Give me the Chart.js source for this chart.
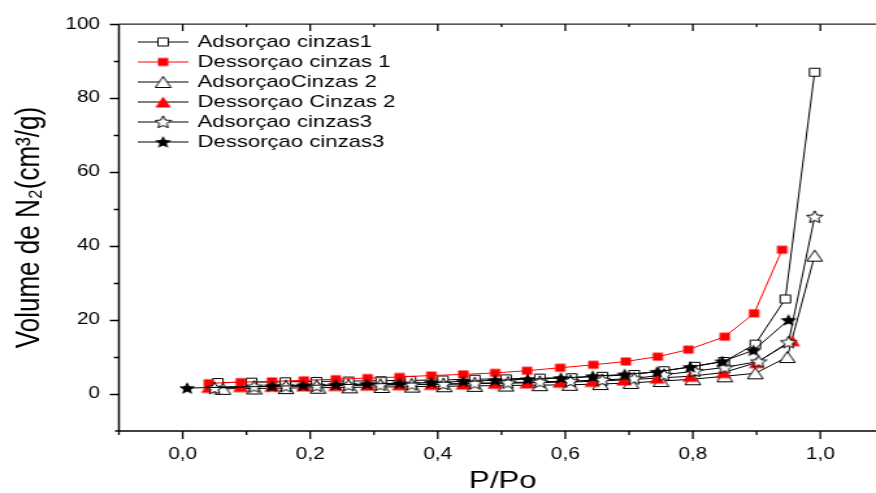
<!DOCTYPE html>
<html>
<head>
<meta charset="utf-8">
<script src="https://cdn.jsdelivr.net/npm/chart.js@4"></script>
<style>
  html, body { margin: 0; padding: 0; background: #fff; overflow: hidden; }
  #chart { display: block; }
</style>
</head>
<body>
<!-- the reference is stretched sideways, so the canvas is drawn narrow and shown wide -->
<canvas id="chart" width="674" height="493" style="width:876px;height:493px"></canvas>
<script>
const FONT = '"Liberation Sans", Arial, sans-serif';

const seriesNames = [
    'Adsorçao cinzas1',
    'Dessorçao cinzas 1',
    'AdsorçaoCinzas 2',
    'Dessorçao Cinzas 2',
    'Adsorçao cinzas3',
    'Dessorçao cinzas3'
];

const ads1X = [0.055, 0.108, 0.161, 0.21, 0.26, 0.311, 0.357, 0.408, 0.458, 0.507, 0.56, 0.61, 0.658, 0.708, 0.755, 0.803, 0.849, 0.898, 0.945, 0.991];
const ads1Y = [3.1, 3.2, 3.3, 3.4, 3.5, 3.6, 3.7, 3.8, 4.0, 4.1, 4.3, 4.4, 4.8, 5.3, 6.3, 7.5, 8.8, 13.5, 25.7, 87];

const des1X = [0.041, 0.091, 0.14, 0.19, 0.24, 0.29, 0.34, 0.39, 0.44, 0.49, 0.54, 0.592, 0.644, 0.695, 0.745, 0.793, 0.85, 0.896, 0.94];
const des1Y = [2.9, 3.2, 3.4, 3.7, 4.0, 4.3, 4.6, 5.0, 5.3, 5.7, 6.3, 7.1, 7.9, 8.8, 10.1, 12, 15.5, 21.8, 39];

const ads2X = [0.063, 0.112, 0.162, 0.212, 0.262, 0.312, 0.36, 0.41, 0.458, 0.507, 0.56, 0.607, 0.655, 0.703, 0.75, 0.8, 0.85, 0.898, 0.948, 0.991];
const ads2Y = [1.4, 1.5, 1.6, 1.7, 1.8, 1.9, 2.0, 2.1, 2.2, 2.3, 2.4, 2.5, 2.7, 3.0, 3.5, 4.0, 4.8, 5.6, 10.0, 37.4];

const des2X = [0.041, 0.091, 0.14, 0.19, 0.24, 0.29, 0.34, 0.39, 0.44, 0.49, 0.54, 0.592, 0.642, 0.692, 0.744, 0.796, 0.848, 0.9, 0.956];
const des2Y = [1.8, 2.0, 2.1, 2.2, 2.3, 2.4, 2.5, 2.6, 2.7, 2.9, 3.0, 3.2, 3.4, 3.8, 4.3, 4.8, 5.8, 8.5, 14.4];

const ads3X = [0.05, 0.112, 0.162, 0.21, 0.26, 0.31, 0.359, 0.409, 0.458, 0.51, 0.56, 0.608, 0.658, 0.708, 0.755, 0.803, 0.85, 0.903, 0.95, 0.991];
const ads3Y = [1.6, 2.0, 2.1, 2.2, 2.4, 2.5, 2.6, 2.7, 2.9, 3.1, 3.3, 3.5, 3.8, 4.2, 5.2, 6.2, 7.2, 8.8, 14.0, 47.9];

const des3X = [0.007, 0.14, 0.189, 0.24, 0.289, 0.34, 0.39, 0.44, 0.49, 0.541, 0.593, 0.643, 0.693, 0.744, 0.796, 0.846, 0.895, 0.95];
const des3Y = [1.6, 2.1, 2.3, 2.5, 2.7, 2.9, 3.1, 3.4, 3.7, 4.0, 4.3, 4.8, 5.3, 6.0, 7.3, 8.8, 11.8, 20];

const xTickLabels = ['0,0', '0,2', '0,4', '0,6', '0,8', '1,0'];
const yTickLabels = ['0', '20', '40', '60', '80', '100'];
const xTitle = 'P/Po';
const yTitle = 'Volume de N₂(cm³/g)';

// marker images (drawn narrow, the canvas stretch widens them)
function makeMarker(kind, fill, stroke) {
    const c = document.createElement('canvas');
    const w = kind === 'square' ? 11 : 14;
    const h = kind === 'square' ? 11 : 14;
    c.width = w;
    c.height = h;
    const g = c.getContext('2d');
    g.beginPath();
    if (kind === 'square') {
        g.rect(1.5, 1.5, 8, 8);
    } else if (kind === 'triangle') {
        g.moveTo(7, 1.5);
        g.lineTo(13, 12.5);
        g.lineTo(1, 12.5);
        g.closePath();
    } else {
        const cx = 7, cy = 7.5, ro = 6.6, ri = 3;
        for (let i = 0; i < 10; i++) {
            const r = i % 2 === 0 ? ro : ri;
            const a = -Math.PI / 2 + i * Math.PI / 5;
            const px = cx + r * Math.cos(a);
            const py = cy + r * Math.sin(a);
            if (i === 0) g.moveTo(px, py); else g.lineTo(px, py);
        }
        g.closePath();
    }
    g.fillStyle = fill;
    g.fill();
    if (stroke) {
        g.strokeStyle = stroke;
        g.lineWidth = 1;
        g.stroke();
    }
    return c;
}

const markers = [
    makeMarker('square', '#fff', '#000'),
    makeMarker('square', '#ff0000', null),
    makeMarker('triangle', '#fff', '#000'),
    makeMarker('triangle', '#ff0000', null),
    makeMarker('star', '#fff', '#000'),
    makeMarker('star', '#000', null)
];
const lineColors = ['#000', '#ff0000', '#000', '#000', '#000', '#000'];

function toPoints(xs, ys) {
    return xs.map((x, i) => ({ x: x, y: ys[i] }));
}

const allX = [ads1X, des1X, ads2X, des2X, ads3X, des3X];
const allY = [ads1Y, des1Y, ads2Y, des2Y, ads3Y, des3Y];

const datasets = seriesNames.map((name, i) => ({
    label: name,
    data: toPoints(allX[i], allY[i]),
    borderColor: lineColors[i],
    backgroundColor: lineColors[i],
    borderWidth: 1,
    pointStyle: markers[i],
    pointRadius: 5,
    tension: 0,
    order: -i
}));

// axis frame and ticks, ticks point out on the left/bottom and in on top
const axesPlugin = {
    id: 'axesFrame',
    afterDraw(chart) {
        const { ctx, chartArea: a, scales: { x, y } } = chart;
        ctx.save();
        ctx.strokeStyle = '#000';
        ctx.lineWidth = 1.5;
        ctx.beginPath();
        ctx.moveTo(a.left, a.top);
        ctx.lineTo(a.left, a.bottom);
        ctx.moveTo(a.left - 3, a.bottom);
        ctx.lineTo(chart.width, a.bottom);
        ctx.stroke();

        ctx.lineWidth = 1.2;
        ctx.strokeStyle = '#222';
        ctx.beginPath();
        ctx.moveTo(a.left, a.top);
        ctx.lineTo(chart.width, a.top);
        ctx.stroke();

        ctx.strokeStyle = '#000';
        ctx.lineWidth = 1.3;
        ctx.beginPath();
        for (let v = 0; v <= 100; v += 10) {
            const py = Math.round(y.getPixelForValue(v)) + 0.5;
            const len = v % 20 === 0 ? 7 : 4;
            ctx.moveTo(a.left - len, py);
            ctx.lineTo(a.left, py);
        }
        for (let i = -1; i <= 10; i++) {
            const px = x.getPixelForValue(i / 10);
            const major = i >= 0 && i % 2 === 0;
            ctx.moveTo(px, a.bottom);
            ctx.lineTo(px, a.bottom + (major ? 8 : 4));
            if (i >= 0) {
                ctx.moveTo(px, a.top);
                ctx.lineTo(px, a.top + (major ? 7 : 3));
            }
        }
        ctx.stroke();

        // x title, a bit right of the plot centre like the original
        ctx.font = '24px ' + FONT;
        ctx.fillStyle = '#000';
        ctx.textAlign = 'center';
        ctx.textBaseline = 'middle';
        ctx.fillText(xTitle, x.getPixelForValue(0.5) + 1, 481);
        ctx.restore();
    }
};

// legend inside the plot, top left
const legendPlugin = {
    id: 'insideLegend',
    afterDraw(chart) {
        const ctx = chart.ctx;
        ctx.save();
        ctx.font = '17px ' + FONT;
        ctx.textBaseline = 'middle';
        ctx.fillStyle = '#000';
        chart.data.datasets.forEach((ds, i) => {
            const yy = 42 + i * 20;
            ctx.strokeStyle = ds.borderColor;
            ctx.lineWidth = 1;
            ctx.beginPath();
            ctx.moveTo(106, yy);
            ctx.lineTo(145, yy);
            ctx.stroke();
            const m = ds.pointStyle;
            ctx.drawImage(m, 125.5 - m.width / 2, yy - m.height / 2);
            ctx.fillText(ds.label, 152, yy);
        });
        ctx.restore();
    }
};

new Chart(document.getElementById('chart'), {
    type: 'line',
    data: { datasets: datasets },
    plugins: [axesPlugin, legendPlugin],
    options: {
        responsive: false,
        animation: false,
        devicePixelRatio: 1,
        layout: { padding: { top: 20, right: 0, bottom: 0, left: 0 } },
        plugins: {
            legend: { display: false },
            tooltip: { enabled: false }
        },
        scales: {
            x: {
                type: 'linear',
                position: 'bottom',
                min: -0.1,
                max: 1.075,
                grid: { display: false, drawTicks: false },
                border: { display: false },
                ticks: {
                    stepSize: 0.1,
                    includeBounds: false,
                    maxTicksLimit: 30,
                    autoSkip: false,
                    maxRotation: 0,
                    padding: 14,
                    color: '#000',
                    font: { family: FONT, size: 16 },
                    callback: v => {
                        const i = Math.round(v * 10);
                        if (Math.abs(v * 10 - i) > 1e-6) return '';
                        if (i >= 0 && i <= 10 && i % 2 === 0) return xTickLabels[i / 2];
                        return '';
                    }
                },
                title: { display: false },
                afterFit: s => {
                    s.height = 62;
                    s.paddingLeft = 0;
                    s.paddingRight = 0;
                }
            },
            y: {
                min: -10,
                max: 100,
                grid: { display: false, drawTicks: false },
                border: { display: false },
                ticks: {
                    stepSize: 10,
                    padding: 14.5,
                    color: '#000',
                    font: { family: FONT, size: 16 },
                    callback: v => (v >= 0 && v % 20 === 0) ? yTickLabels[v / 20] : ''
                },
                title: {
                    display: true,
                    text: yTitle,
                    color: '#000',
                    font: { family: FONT, size: 26 },
                    padding: { top: 7, bottom: 0 }
                },
                afterFit: s => { s.width = 91.5; }
            }
        }
    }
});
</script>
</body>
</html>
